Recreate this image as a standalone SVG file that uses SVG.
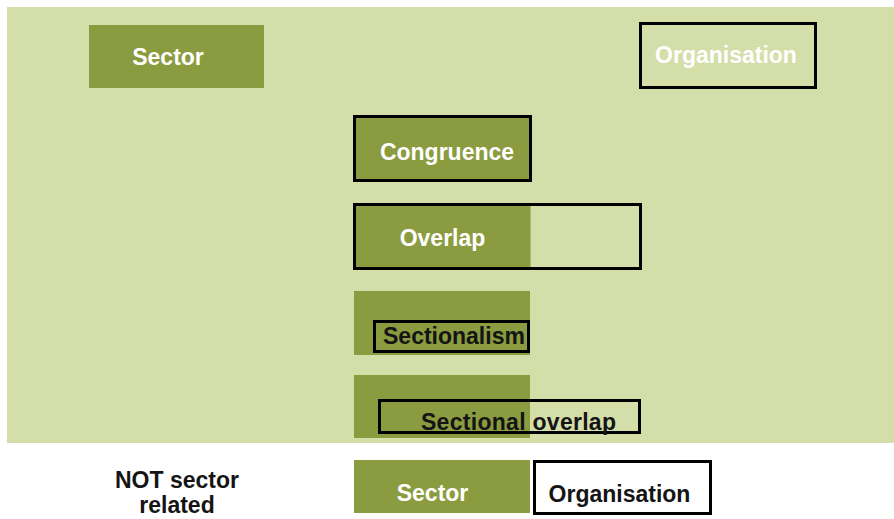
<svg xmlns="http://www.w3.org/2000/svg" width="894" height="519" viewBox="0 0 894 519">
  <style>
    .bg { fill: #d4dea9; }
    .green { fill: #8b9b3f; }
    .outline { fill: none; stroke: #000000; stroke-width: 3; }
    .t { font-family: "Liberation Sans", Arial, sans-serif; font-weight: bold; font-size: 23px; }
    .w { fill: #ffffff; }
    .k { fill: #141414; }
  </style>
  <rect width="894" height="519" fill="#ffffff"/>
  <rect class="bg" x="7" y="7" width="887" height="436"/>

  <g id="sector-top">
    <rect class="green" x="89" y="25" width="175" height="63"/>
    <text class="t w" x="168" y="65" text-anchor="middle">Sector</text>
  </g>

  <g id="organisation-top">
    <rect class="outline" x="640.5" y="23.5" width="175" height="64"/>
    <text class="t w" x="726" y="63" text-anchor="middle">Organisation</text>
  </g>

  <g id="congruence">
    <rect class="green" x="354.5" y="116.5" width="176" height="64"/>
    <rect class="outline" x="354.5" y="116.5" width="176" height="64"/>
    <text class="t w" x="447" y="160" text-anchor="middle">Congruence</text>
  </g>

  <g id="overlap">
    <rect class="green" x="354.5" y="204.5" width="176" height="64"/>
    <rect class="outline" x="354.5" y="204.5" width="286" height="64"/>
    <text class="t w" x="442.5" y="246" text-anchor="middle">Overlap</text>
  </g>

  <g id="sectionalism">
    <rect class="green" x="354" y="291" width="176" height="64"/>
    <rect class="outline" x="374.5" y="321.5" width="154" height="30"/>
    <text class="t k" x="383" y="344">Sectionalism</text>
  </g>

  <g id="sectional-overlap">
    <rect class="green" x="354" y="375" width="176" height="63"/>
    <rect class="outline" x="379.5" y="400.5" width="260" height="32"/>
    <text class="t k" x="421" y="430" textLength="195">Sectional overlap</text>
  </g>

  <g id="not-sector-related">
    <text class="t k" x="177" y="488" text-anchor="middle">NOT sector</text>
    <text class="t k" x="177" y="513" text-anchor="middle">related</text>
  </g>

  <g id="sector-bottom">
    <rect class="green" x="354" y="460" width="176" height="53"/>
    <text class="t w" x="432.5" y="501" text-anchor="middle">Sector</text>
  </g>

  <g id="organisation-bottom">
    <rect fill="#ffffff" x="534.5" y="461.5" width="176" height="52"/>
    <rect class="outline" x="534.5" y="461.5" width="176" height="52"/>
    <text class="t k" x="619.5" y="502" text-anchor="middle">Organisation</text>
  </g>

  <g id="connectors"></g>
</svg>
